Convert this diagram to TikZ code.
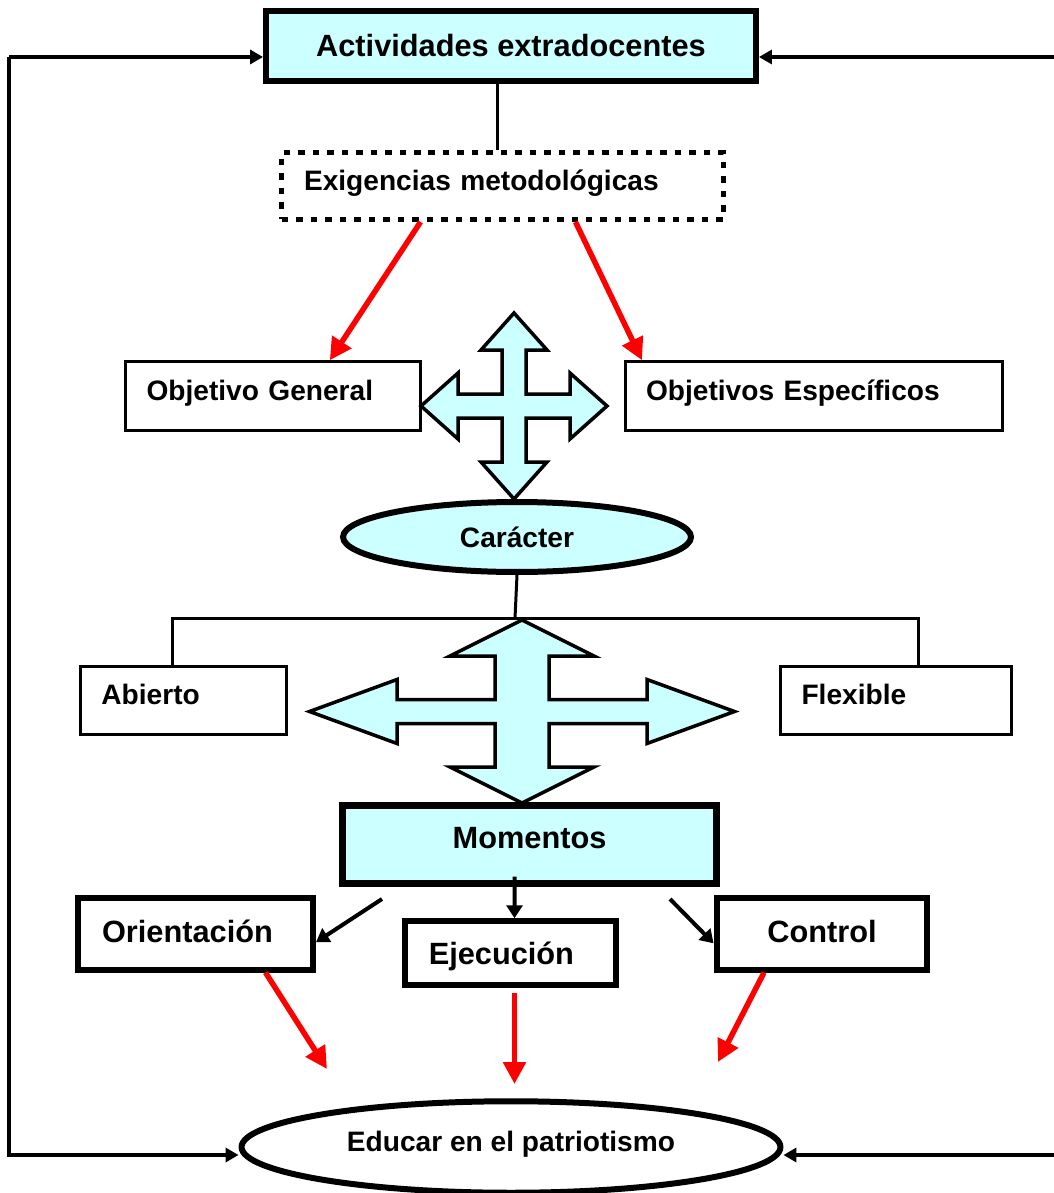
\documentclass[tikz,border=0pt]{standalone}
\usepackage{fontspec}
\setmainfont{Liberation Sans}
\usetikzlibrary{calc,arrows.meta,shapes.geometric}
\definecolor{celeste}{HTML}{CCFFFF}

% flecha en cruz: centro, punta h, largo cabeza h, media cabeza h, medio brazo h, idem vertical
\newcommand{\cruz}[9]{%
  \draw[line width=0.07cm,fill=celeste,shift={#1}]
    (0,-#6) -- (#8,{-#6+#7}) -- (#9,{-#6+#7}) -- (#9,-#5) -- ({#2-#3},-#5) -- ({#2-#3},-#4) -- (#2,0)
    -- ({#2-#3},#4) -- ({#2-#3},#5) -- (#9,#5) -- (#9,{#6-#7}) -- (#8,{#6-#7}) -- (0,#6)
    -- (-#8,{#6-#7}) -- (-#9,{#6-#7}) -- (-#9,#5) -- ({-#2+#3},#5) -- ({-#2+#3},#4) -- (-#2,0)
    -- ({-#2+#3},-#4) -- ({-#2+#3},-#5) -- (-#9,-#5) -- (-#9,{-#6+#7}) -- (-#8,{-#6+#7}) -- cycle;}

\begin{document}
\begin{tikzpicture}[x=0.02cm,y=-0.02cm,
    hbox/.style={draw,line width=0.12cm,fill=celeste,inner sep=0pt,font=\bfseries\fontsize{17.5}{21}\selectfont},
    lbox/.style={draw,line width=0.06cm,align=left,inner xsep=0.42cm,text height=0.45cm,text depth=0.29cm,font=\bfseries\fontsize{16}{19}\selectfont},
    dotbox/.style={lbox,line width=0.1cm,dash pattern=on 0.13cm off 0.16cm,inner xsep=0.45cm},
    mbox/.style={draw,line width=0.12cm,fill=white,text height=0.5cm,text depth=0.16cm,font=\bfseries\fontsize{17.5}{21}\selectfont},
    oval/.style={ellipse,draw,line width=0.12cm,inner sep=0pt,font=\bfseries\fontsize{16}{19}\selectfont},
    linea/.style={line width=0.06cm},
    fb/.style={line width=0.07cm,-{Triangle[length=0.26cm,width=0.28cm]}},
    rojo/.style={color=red,line width=0.11cm,-{Triangle[length=0.44cm,width=0.44cm]}},
    negro/.style={line width=0.08cm,-{Triangle[length=0.26cm,width=0.32cm]}}]
  \useasboundingbox (0,0) rectangle (1054,1193);

  % cajas
  \node[hbox,minimum width=9.8cm,minimum height=1.4cm] (act) at (511,46) {Actividades extradocentes};
  \node[dotbox,text width=7.94cm,minimum height=1.34cm] (exi) at (502.5,186) {Exigencias metodológicas};
  \node[lbox,text width=5.05cm,minimum height=1.37cm] (og) at (272.8,396) {Objetivo General};
  \node[lbox,text width=6.72cm,minimum height=1.37cm] (oe) at (814,396) {Objetivos Específicos};
  \node[oval,fill=celeste,minimum width=6.96cm,minimum height=1.4cm] (car) at (517,537) {Carácter};
  \node[lbox,text width=3.28cm,minimum height=1.35cm] (abi) at (183.4,700.4) {Abierto};
  \node[lbox,text width=3.78cm,minimum height=1.35cm] (fle) at (896,700.4) {Flexible};
  \node[hbox,line width=0.14cm,minimum width=7.47cm,minimum height=1.56cm,text height=0.5cm,text depth=0.33cm] (mom) at (529.6,844.2) {Momentos};
  \node[mbox,align=left,text width=3.74cm,inner xsep=0.48cm,minimum height=1.43cm] (ori) at (195.5,933.8) {Orientación};
  \node[mbox,align=left,text width=3.27cm,inner xsep=0.48cm,minimum height=1.27cm,text depth=0.06cm] (eje) at (510.5,953) {Ejecución};
  \node[mbox,minimum width=4.22cm,minimum height=1.43cm] (con) at (822,933.8) {Control};
  \node[oval,fill=white,minimum width=10.78cm,minimum height=1.83cm,text height=0.4cm,text depth=0.21cm] (edu) at (511,1147) {Educar en el patriotismo};

  % flechas en cruz
  \cruz{(514,406)}{93}{37}{33}{12}{93}{37}{33}{12}
  \cruz{(522,711.5)}{212.5}{87.5}{32}{12}{91.5}{36}{72}{27}

  % lazo de retorno
  \coordinate (lt) at (9,57);
  \coordinate (lb) at (9,1155);
  \coordinate (rt) at (1058,57);
  \coordinate (rb) at (1058,1155);
  \draw[fb] (lt) -- (act.west |- lt);
  \draw[fb] (lt) -- (lb) -- (edu.west |- lb);
  \draw[fb] (rt) -- (act.east |- rt);
  \draw[fb] (rt) -- (rb) -- (edu.east |- rb);

  % conectores
  \draw[linea] ([xshift=-0.1cm]exi.north |- act.south) -- ([xshift=-0.1cm]exi.north);
  \coordinate (hub) at (515,618);
  \draw[linea] (car.south) -- (hub);
  \draw[linea] (hub) -| ($(abi.north)+(-11,0)$);
  \draw[linea] (hub) -| ($(fle.north)+(22,0)$);

  \draw[rojo] ($(exi.south)+(-82,0)$) -- ($(og.north)+(57,0)$);
  \draw[rojo] ($(exi.south)+(73,0)$) -- ($(oe.north)+(-172,0)$);

  \coordinate (m1) at (382,899);
  \coordinate (m2) at (670,899);
  \draw[negro] (m1) -- (ori.-4);
  \draw[negro] ($(mom.south)+(-15,-10)$) -- ($(eje.north)+(4,0)$);
  \draw[negro] (m2) -- (con.185);

  \coordinate (p1) at (327,1069);
  \coordinate (p2) at (514.5,1084);
  \coordinate (p3) at (718,1062);
  \draw[rojo] ($(ori.south)+(70,0)$) -- (p1);
  \draw[rojo] ($(eje.south)+(4,5)$) -- (p2);
  \draw[rojo] ($(con.south)+(-58,0)$) -- (p3);
\end{tikzpicture}
\end{document}
